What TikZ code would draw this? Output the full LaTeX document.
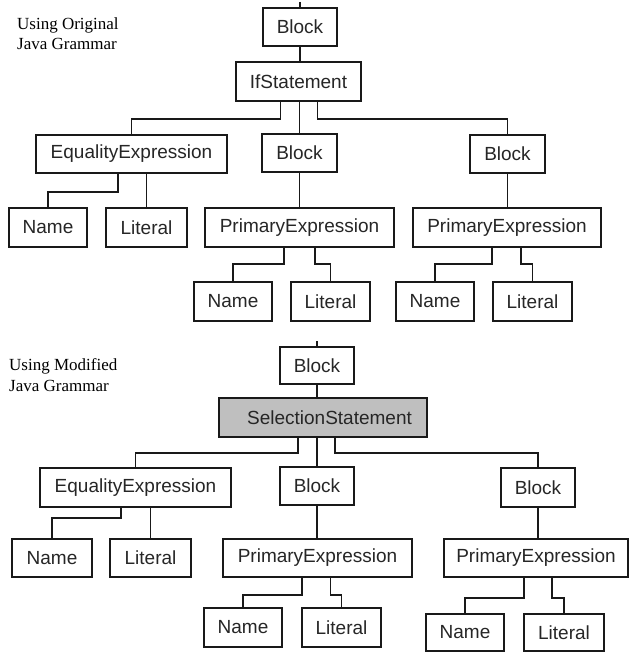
\documentclass[tikz,border=0pt]{standalone}
\usepackage{fontspec}
\setmainfont{Liberation Serif}
\newfontfamily\boxfont{Liberation Sans}
\begin{document}
\begin{tikzpicture}[x=1pt,y=-1pt,
  box/.style={draw=black!90,line width=1.8pt,fill=white,inner sep=0pt,
    font=\boxfont\fontsize{19}{22}\selectfont,text=black!85},
  gbox/.style={box,fill=black!25},
  conn/.style={draw=black!90,line width=1.8pt},
  lbl/.style={anchor=base west,inner sep=0pt,font=\fontsize{17}{19}\selectfont,text=black}]
\useasboundingbox (0,0) rectangle (629,652);

% ---------- top tree ----------
\node[lbl] (t1a) at (17,29.5) {Using Original};
\node[lbl] (t1b) at (17,49.3) {Java Grammar};

\node[box,minimum width=74,minimum height=38] (b1) at (300,27) {Block};
\node[box,minimum width=125,minimum height=39] (ifs) at (298.5,81.5) {IfStatement};
\node[box,minimum width=191,minimum height=38] (eq1) at (131.5,154) {EqualityExpression};
\node[box,minimum width=75,minimum height=38] (b2) at (299.5,153) {Block};
\node[box,minimum width=75,minimum height=38] (b3) at (507.5,154) {Block};
\node[box,minimum width=78,minimum height=39] (n1) at (48,227.5) {Name};
\node[box,minimum width=81,minimum height=39] (l1) at (146.5,227.5) {Literal};
\node[box,minimum width=189,minimum height=39] (pe1) at (299.5,227.5) {PrimaryExpression};
\node[box,minimum width=188,minimum height=39] (pe2) at (507,227.5) {PrimaryExpression};
\node[box,minimum width=78,minimum height=39] (n2) at (233,301.5) {Name};
\node[box,minimum width=79,minimum height=39] (l2) at (330.5,301.5) {Literal};
\node[box,minimum width=78,minimum height=39] (n3) at (435,301.5) {Name};
\node[box,minimum width=79,minimum height=39] (l3) at (532.5,301.5) {Literal};

\coordinate (tk1) at (300,2);
\draw[conn] (tk1) -- (b1.north);
\draw[conn] (b1.south) -- (b1.south |- ifs.north);
\draw[conn] ([xshift=-18]ifs.south) -- ++(0,17) -| (eq1.north);
\draw[conn] (ifs.south -| b2.north) -- (b2.north);
\draw[conn] ([xshift=19]ifs.south) -- ++(0,17) -| (b3.north);
\draw[conn] ([xshift=-13.5]eq1.south) -- ++(0,18) -| (n1.north);
\draw[conn] (l1.north |- eq1.south) -- (l1.north);
\draw[conn] (b2.south) -- (b2.south |- pe1.north);
\draw[conn] (b3.south) -- (b3.south |- pe2.north);
\draw[conn] ([xshift=-15.5]pe1.south) -- ++(0,16) -| (n2.north);
\draw[conn] ([xshift=15.5]pe1.south) -- ++(0,16) -| (l2.north);
\draw[conn] ([xshift=-15]pe2.south) -- ++(0,16) -| (n3.north);
\draw[conn] ([xshift=14]pe2.south) -- ++(0,16) -| (l3.north);

% ---------- bottom tree ----------
\node[lbl] (t2a) at (9,370.7) {Using Modified};
\node[lbl] (t2b) at (9,391.5) {Java Grammar};

\node[box,minimum width=74,minimum height=37] (B1) at (317,365.5) {Block};
\node[gbox,minimum width=208,minimum height=39] (ss) at (323,417.5) {\hspace{13pt}SelectionStatement};
\node[box,minimum width=191,minimum height=39] (eq2) at (135.5,487.5) {EqualityExpression};
\node[box,minimum width=74,minimum height=38] (Bm) at (317,486) {Block};
\node[box,minimum width=74,minimum height=39] (Br) at (538,487.5) {Block};
\node[box,minimum width=80,minimum height=38] (N1) at (52,558) {Name};
\node[box,minimum width=81,minimum height=38] (L1) at (150.5,558) {Literal};
\node[box,minimum width=189,minimum height=38] (PE1) at (317.5,558) {PrimaryExpression};
\node[box,minimum width=184,minimum height=38] (PE2) at (536,558) {PrimaryExpression};
\node[box,minimum width=78,minimum height=39] (N2) at (243,627.5) {Name};
\node[box,minimum width=79,minimum height=39] (L2) at (341.5,627.5) {Literal};
\node[box,minimum width=78,minimum height=37] (N3) at (465,632.5) {Name};
\node[box,minimum width=80,minimum height=37] (L3) at (564,632.5) {Literal};

\coordinate (tk2) at (317,341);
\draw[conn] (tk2) -- (B1.north);
\draw[conn] (B1.south) -- (B1.south |- ss.north);
\draw[conn] ([xshift=-25]ss.south) -- ++(0,15) -| (eq2.north);
\draw[conn] (Bm.north |- ss.south) -- (Bm.north);
\draw[conn] ([xshift=12]ss.south) -- ++(0,15) -| (Br.north);
\draw[conn] ([xshift=-14.5]eq2.south) -- ++(0,10) -| (N1.north);
\draw[conn] (L1.north |- eq2.south) -- (L1.north);
\draw[conn] (Bm.south) -- (Bm.south |- PE1.north);
\draw[conn] (Br.south) -- (Br.south |- PE2.north);
\draw[conn] ([xshift=-15.5]PE1.south) -- ++(0,17) -| (N2.north);
\draw[conn] ([xshift=13]PE1.south) -- ++(0,17) -| (L2.north);
\draw[conn] ([xshift=-12]PE2.south) -- ++(0,20) -| (N3.north);
\draw[conn] ([xshift=16]PE2.south) -- ++(0,20) -| (L3.north);
\end{tikzpicture}
\end{document}
